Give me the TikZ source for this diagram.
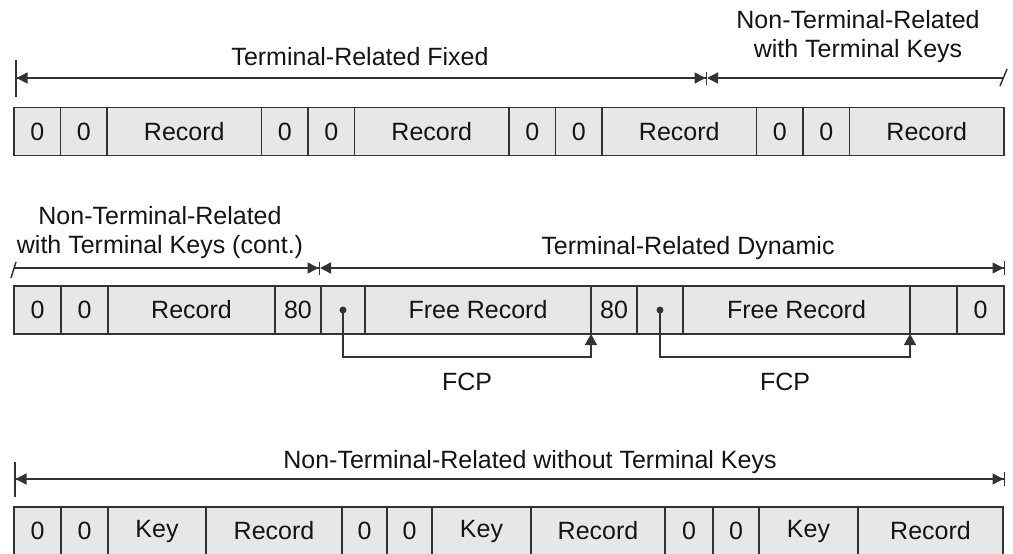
\documentclass[tikz,border=0pt]{standalone}
\usepackage{fontspec}
\setmainfont{Liberation Sans}
\usepackage{tikz}
\usetikzlibrary{arrows.meta,positioning,calc}
\definecolor{fmfill}{HTML}{E6E7E8}
\definecolor{fmline}{HTML}{333333}
\definecolor{fmink}{HTML}{141414}

\tikzset{
  cell/.style={draw=fmline,fill=fmfill,line width=1.5pt,minimum height=48pt,inner sep=0pt,outer sep=0pt,font=\fontsize{25}{30}\selectfont\color{fmink}},
  zcell/.style={cell,minimum width=46.5pt},
  dim/.style={draw=fmline,line width=1.5pt},
  lbl/.style={font=\fontsize{25}{29}\selectfont\color{fmink},align=center,inner sep=0pt}
}

\begin{document}
\begin{tikzpicture}[x=1pt,y=-1pt]
  \useasboundingbox (0,0) rectangle (1013,554);

  % fixed part
  \node[zcell,anchor=west] (a1) at (14,131.5) {0};
  \node[zcell,right=0pt of a1] (a2) {0};
  \node[cell,minimum width=154.5pt,right=0pt of a2] (a3) {Record};
  \node[zcell,right=0pt of a3] (a4) {0};
  \node[zcell,right=0pt of a4] (a5) {0};
  \node[cell,minimum width=154.5pt,right=0pt of a5] (a6) {Record};
  \node[zcell,right=0pt of a6] (a7) {0};
  \node[zcell,right=0pt of a7] (a8) {0};
  \node[cell,minimum width=154.5pt,right=0pt of a8] (a9) {Record};
  \node[zcell,right=0pt of a9] (a10) {0};
  \node[zcell,right=0pt of a10] (a11) {0};
  \node[cell,minimum width=154.5pt,right=0pt of a11] (a12) {Record};

  \coordinate (fl) at (15,78);
  \coordinate (fm) at (707,78);
  \coordinate (fr) at (1004,78);
  \draw[dim,{Bar[width=37pt]Triangle[length=11pt,width=11pt]}-{Triangle[length=11pt,width=11pt]Bar[width=13pt]}] (fl) -- (fm);
  \draw[dim,{Triangle[length=11pt,width=11pt]}-] (fm) -- (fr);
  \draw[dim] ($(fr)+(-4,8)$) -- ($(fr)+(3,-9)$);
  \node[lbl] (lfix) at (360,57) {Terminal-Related Fixed};
  \node[lbl] (lntk) at (858,37) {Non-Terminal-Related\\with Terminal Keys};

  % dynamic part
  \node[cell,minimum width=47pt,anchor=west] (b1) at (14,310) {0};
  \node[cell,minimum width=47pt,right=0pt of b1] (b2) {0};
  \node[cell,minimum width=167pt,right=0pt of b2] (b3) {Record};
  \node[cell,minimum width=46pt,right=0pt of b3] (b4) {80};
  \node[cell,minimum width=44pt,right=0pt of b4] (b5) {};
  \node[cell,minimum width=226pt,right=0pt of b5] (b6) {Free Record};
  \node[cell,minimum width=46pt,right=0pt of b6] (b7) {80};
  \node[cell,minimum width=46pt,right=0pt of b7] (b8) {};
  \node[cell,minimum width=227pt,right=0pt of b8] (b9) {Free Record};
  \node[cell,minimum width=47pt,right=0pt of b9] (b10) {};
  \node[cell,minimum width=47pt,right=0pt of b10] (b11) {0};

  \coordinate (gl) at (14,268);
  \coordinate (gm) at (320,268);
  \coordinate (gr) at (1005,268);
  \draw[dim,-{Triangle[length=11pt,width=11pt]Bar[width=13pt]}] (gl) -- (gm);
  \draw[dim,{Triangle[length=11pt,width=11pt]}-{Triangle[length=11pt,width=11pt]Bar[width=14pt]}] (gm) -- (gr);
  \draw[dim] ($(gl)+(-3,10)$) -- ($(gl)+(2,-6)$);
  \node[lbl] (lcont) at (160,233) {Non-Terminal-Related\\with Terminal Keys (cont.)};
  \node[lbl] (ldyn) at (688,248) {Terminal-Related Dynamic};

  \fill[fmline] (b5.center) circle (3.5pt);
  \fill[fmline] (b8.center) circle (3.5pt);
  \coordinate (pa) at (b5.center |- 0,357);
  \coordinate (pb) at (b8.center |- 0,357);
  \draw[dim,-{Triangle[length=11pt,width=12pt]}] (b5.center) -- (pa) -| (b6.south east);
  \draw[dim,-{Triangle[length=11pt,width=12pt]}] (b8.center) -- (pb) -| (b9.south east);
  \node[lbl] (fcpa) at (467,382) {FCP};
  \node[lbl] (fcpb) at (785,382) {FCP};

  % keyed part
  \node[cell,minimum width=47pt,anchor=west] (c1) at (14,531) {0};
  \node[cell,minimum width=47pt,right=0pt of c1] (c2) {0};
  \node[cell,minimum width=98pt,right=0pt of c2] (c3) {Key};
  \node[cell,minimum width=136pt,right=0pt of c3] (c4) {Record};
  \node[cell,minimum width=45pt,right=0pt of c4] (c5) {0};
  \node[cell,minimum width=45pt,right=0pt of c5] (c6) {0};
  \node[cell,minimum width=99pt,right=0pt of c6] (c7) {Key};
  \node[cell,minimum width=134pt,right=0pt of c7] (c8) {Record};
  \node[cell,minimum width=48pt,right=0pt of c8] (c9) {0};
  \node[cell,minimum width=46pt,right=0pt of c9] (c10) {0};
  \node[cell,minimum width=99pt,right=0pt of c10] (c11) {Key};
  \node[cell,minimum width=145pt,right=0pt of c11] (c12) {Record};

  \coordinate (hl) at (14,479);
  \coordinate (hr) at (1005,479);
  \draw[dim,{Bar[width=35pt]Triangle[length=11pt,width=11pt]}-{Triangle[length=11pt,width=11pt]Bar[width=14pt]}] (hl) -- (hr);
  \node[lbl] (lnot) at (530,462) {Non-Terminal-Related without Terminal Keys};
\end{tikzpicture}
\end{document}
